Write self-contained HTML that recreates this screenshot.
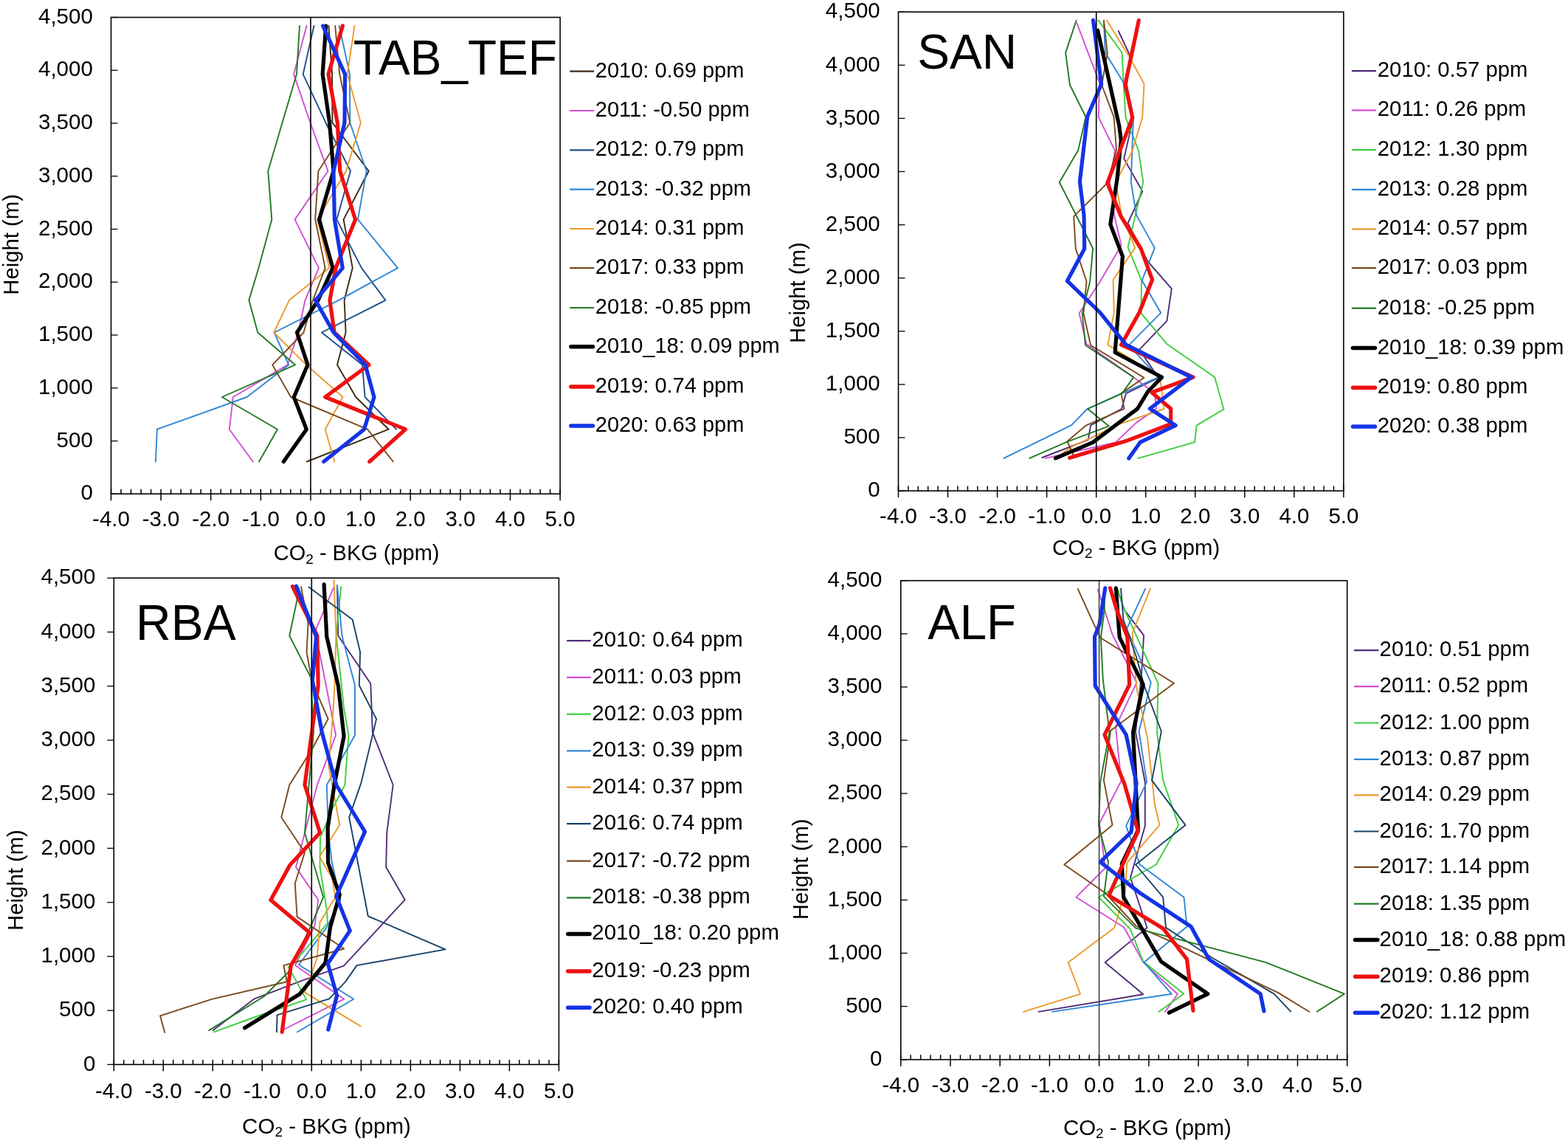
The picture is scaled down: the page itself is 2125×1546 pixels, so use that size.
<!DOCTYPE html>
<html><head><meta charset="utf-8"><title>CO2 profiles</title>
<style>
html,body{margin:0;padding:0;background:#fff;width:2125px;height:1546px;overflow:hidden}
.t{font-family:"Liberation Sans", Arial, sans-serif;font-size:29.3px;fill:#000}
.k{font-size:29.5px}
</style></head><body>
<svg width="2125" height="1546" viewBox="0 0 2125 1546" style="display:block"><rect width="2125" height="1546" fill="#fff"/><g id="TL"><polyline points="445.4,35.0 450.1,100.6 450.5,166.2 499.7,231.8 465.6,297.4 477.8,363.1 466.6,406.8 468.6,450.5 457.0,494.3 482.2,538.0 526.7,581.7 415.9,625.5" fill="none" stroke="#3b2a14" stroke-width="1.9" stroke-linejoin="round" stroke-linecap="round"/><polyline points="415.6,35.0 398.1,100.6 420.5,166.2 444.5,231.8 399.6,297.4 432.0,363.1 413.5,406.8 404.2,450.5 389.7,494.3 315.9,538.0 310.8,581.7 342.8,625.5" fill="none" stroke="#d14fd6" stroke-width="1.9" stroke-linejoin="round" stroke-linecap="round"/><polyline points="425.5,35.0 410.7,100.6 441.4,166.2 475.0,231.8 456.3,297.4 490.0,363.1 522.4,406.8 436.0,450.5 491.0,494.3 494.6,538.0 537.0,581.7" fill="none" stroke="#1f4e8c" stroke-width="1.9" stroke-linejoin="round" stroke-linecap="round"/><polyline points="459.7,35.0 474.0,100.6 474.3,166.2 496.6,231.8 485.0,297.4 539.0,363.1 459.0,406.8 371.6,450.5 391.3,494.3 334.6,538.0 212.9,581.7 210.9,625.5" fill="none" stroke="#2f86d6" stroke-width="1.9" stroke-linejoin="round" stroke-linecap="round"/><polyline points="480.5,35.0 470.7,100.6 488.9,166.2 469.0,231.8 430.0,297.4 446.4,363.1 392.0,406.8 371.1,450.5 415.0,494.3 464.6,538.0 440.7,581.7 453.2,625.5" fill="none" stroke="#eb9a2e" stroke-width="1.9" stroke-linejoin="round" stroke-linecap="round"/><polyline points="454.2,35.0 460.3,100.6 474.3,166.2 431.4,231.8 427.2,297.4 440.7,363.1 424.0,406.8 411.5,450.5 369.2,494.3 394.2,538.0 498.0,581.7 532.9,625.5" fill="none" stroke="#7b4a1e" stroke-width="1.9" stroke-linejoin="round" stroke-linecap="round"/><polyline points="406.0,35.0 402.0,100.6 382.6,166.2 363.3,231.8 368.3,297.4 350.5,363.1 337.4,406.8 349.3,450.5 400.0,494.3 300.9,538.0 376.0,581.7 351.1,625.5" fill="none" stroke="#237a23" stroke-width="1.9" stroke-linejoin="round" stroke-linecap="round"/><polyline points="441.7,35.0 437.2,100.6 446.6,166.2 452.0,231.8 432.6,297.4 451.0,363.1 431.0,406.8 402.5,450.5 417.0,494.3 398.3,538.0 415.4,581.7 384.3,625.5" fill="none" stroke="#000000" stroke-width="5.2" stroke-linejoin="round" stroke-linecap="round"/><polyline points="464.4,35.0 445.0,100.6 457.3,166.2 460.7,231.8 481.6,297.4 455.0,363.1 447.0,406.8 453.1,450.5 500.0,494.3 440.7,538.0 549.4,581.7 500.8,625.5" fill="none" stroke="#ee1111" stroke-width="5.2" stroke-linejoin="round" stroke-linecap="round"/><polyline points="437.6,35.0 467.6,100.6 467.0,166.2 452.0,231.8 453.4,297.4 464.3,363.1 427.5,406.8 452.1,450.5 495.0,494.3 507.0,538.0 493.5,581.7 438.7,625.5" fill="none" stroke="#1433e6" stroke-width="5.2" stroke-linejoin="round" stroke-linecap="round"/><line x1="421.0" y1="23.5" x2="421.0" y2="669.2" stroke="#000" stroke-width="1.6"/><rect x="150.5" y="23.5" width="608.6" height="645.7" fill="none" stroke="#000" stroke-width="1.6"/><line x1="150.5" y1="662.7" x2="150.5" y2="678.2" stroke="#000" stroke-width="1.5"/><line x1="164.0" y1="662.7" x2="164.0" y2="669.2" stroke="#000" stroke-width="1.5"/><line x1="177.5" y1="662.7" x2="177.5" y2="669.2" stroke="#000" stroke-width="1.5"/><line x1="191.1" y1="662.7" x2="191.1" y2="669.2" stroke="#000" stroke-width="1.5"/><line x1="204.6" y1="662.7" x2="204.6" y2="669.2" stroke="#000" stroke-width="1.5"/><line x1="218.1" y1="662.7" x2="218.1" y2="678.2" stroke="#000" stroke-width="1.5"/><line x1="231.6" y1="662.7" x2="231.6" y2="669.2" stroke="#000" stroke-width="1.5"/><line x1="245.2" y1="662.7" x2="245.2" y2="669.2" stroke="#000" stroke-width="1.5"/><line x1="258.7" y1="662.7" x2="258.7" y2="669.2" stroke="#000" stroke-width="1.5"/><line x1="272.2" y1="662.7" x2="272.2" y2="669.2" stroke="#000" stroke-width="1.5"/><line x1="285.7" y1="662.7" x2="285.7" y2="678.2" stroke="#000" stroke-width="1.5"/><line x1="299.3" y1="662.7" x2="299.3" y2="669.2" stroke="#000" stroke-width="1.5"/><line x1="312.8" y1="662.7" x2="312.8" y2="669.2" stroke="#000" stroke-width="1.5"/><line x1="326.3" y1="662.7" x2="326.3" y2="669.2" stroke="#000" stroke-width="1.5"/><line x1="339.8" y1="662.7" x2="339.8" y2="669.2" stroke="#000" stroke-width="1.5"/><line x1="353.4" y1="662.7" x2="353.4" y2="678.2" stroke="#000" stroke-width="1.5"/><line x1="366.9" y1="662.7" x2="366.9" y2="669.2" stroke="#000" stroke-width="1.5"/><line x1="380.4" y1="662.7" x2="380.4" y2="669.2" stroke="#000" stroke-width="1.5"/><line x1="393.9" y1="662.7" x2="393.9" y2="669.2" stroke="#000" stroke-width="1.5"/><line x1="407.5" y1="662.7" x2="407.5" y2="669.2" stroke="#000" stroke-width="1.5"/><line x1="421.0" y1="662.7" x2="421.0" y2="678.2" stroke="#000" stroke-width="1.5"/><line x1="434.5" y1="662.7" x2="434.5" y2="669.2" stroke="#000" stroke-width="1.5"/><line x1="448.0" y1="662.7" x2="448.0" y2="669.2" stroke="#000" stroke-width="1.5"/><line x1="461.6" y1="662.7" x2="461.6" y2="669.2" stroke="#000" stroke-width="1.5"/><line x1="475.1" y1="662.7" x2="475.1" y2="669.2" stroke="#000" stroke-width="1.5"/><line x1="488.6" y1="662.7" x2="488.6" y2="678.2" stroke="#000" stroke-width="1.5"/><line x1="502.1" y1="662.7" x2="502.1" y2="669.2" stroke="#000" stroke-width="1.5"/><line x1="515.7" y1="662.7" x2="515.7" y2="669.2" stroke="#000" stroke-width="1.5"/><line x1="529.2" y1="662.7" x2="529.2" y2="669.2" stroke="#000" stroke-width="1.5"/><line x1="542.7" y1="662.7" x2="542.7" y2="669.2" stroke="#000" stroke-width="1.5"/><line x1="556.2" y1="662.7" x2="556.2" y2="678.2" stroke="#000" stroke-width="1.5"/><line x1="569.8" y1="662.7" x2="569.8" y2="669.2" stroke="#000" stroke-width="1.5"/><line x1="583.3" y1="662.7" x2="583.3" y2="669.2" stroke="#000" stroke-width="1.5"/><line x1="596.8" y1="662.7" x2="596.8" y2="669.2" stroke="#000" stroke-width="1.5"/><line x1="610.3" y1="662.7" x2="610.3" y2="669.2" stroke="#000" stroke-width="1.5"/><line x1="623.9" y1="662.7" x2="623.9" y2="678.2" stroke="#000" stroke-width="1.5"/><line x1="637.4" y1="662.7" x2="637.4" y2="669.2" stroke="#000" stroke-width="1.5"/><line x1="650.9" y1="662.7" x2="650.9" y2="669.2" stroke="#000" stroke-width="1.5"/><line x1="664.4" y1="662.7" x2="664.4" y2="669.2" stroke="#000" stroke-width="1.5"/><line x1="678.0" y1="662.7" x2="678.0" y2="669.2" stroke="#000" stroke-width="1.5"/><line x1="691.5" y1="662.7" x2="691.5" y2="678.2" stroke="#000" stroke-width="1.5"/><line x1="705.0" y1="662.7" x2="705.0" y2="669.2" stroke="#000" stroke-width="1.5"/><line x1="718.5" y1="662.7" x2="718.5" y2="669.2" stroke="#000" stroke-width="1.5"/><line x1="732.1" y1="662.7" x2="732.1" y2="669.2" stroke="#000" stroke-width="1.5"/><line x1="745.6" y1="662.7" x2="745.6" y2="669.2" stroke="#000" stroke-width="1.5"/><line x1="759.1" y1="662.7" x2="759.1" y2="678.2" stroke="#000" stroke-width="1.5"/><line x1="150.5" y1="669.2" x2="159.5" y2="669.2" stroke="#000" stroke-width="1.3"/><line x1="150.5" y1="597.5" x2="159.5" y2="597.5" stroke="#000" stroke-width="1.3"/><line x1="150.5" y1="525.7" x2="159.5" y2="525.7" stroke="#000" stroke-width="1.3"/><line x1="150.5" y1="454.0" x2="159.5" y2="454.0" stroke="#000" stroke-width="1.3"/><line x1="150.5" y1="382.2" x2="159.5" y2="382.2" stroke="#000" stroke-width="1.3"/><line x1="150.5" y1="310.5" x2="159.5" y2="310.5" stroke="#000" stroke-width="1.3"/><line x1="150.5" y1="238.7" x2="159.5" y2="238.7" stroke="#000" stroke-width="1.3"/><line x1="150.5" y1="167.0" x2="159.5" y2="167.0" stroke="#000" stroke-width="1.3"/><line x1="150.5" y1="95.2" x2="159.5" y2="95.2" stroke="#000" stroke-width="1.3"/><line x1="150.5" y1="23.5" x2="159.5" y2="23.5" stroke="#000" stroke-width="1.3"/><text transform="translate(125.8,677.4) scale(1,1.0)" text-anchor="end" class="t k">0</text><text transform="translate(125.8,605.7) scale(1,1.0)" text-anchor="end" class="t k">500</text><text transform="translate(125.8,533.9) scale(1,1.0)" text-anchor="end" class="t k">1,000</text><text transform="translate(125.8,462.2) scale(1,1.0)" text-anchor="end" class="t k">1,500</text><text transform="translate(125.8,390.4) scale(1,1.0)" text-anchor="end" class="t k">2,000</text><text transform="translate(125.8,318.7) scale(1,1.0)" text-anchor="end" class="t k">2,500</text><text transform="translate(125.8,246.9) scale(1,1.0)" text-anchor="end" class="t k">3,000</text><text transform="translate(125.8,175.2) scale(1,1.0)" text-anchor="end" class="t k">3,500</text><text transform="translate(125.8,103.4) scale(1,1.0)" text-anchor="end" class="t k">4,000</text><text transform="translate(125.8,31.7) scale(1,1.0)" text-anchor="end" class="t k">4,500</text><text transform="translate(150.5,713.0) scale(1,1.025)" text-anchor="middle" class="t k">-4.0</text><text transform="translate(218.1,713.0) scale(1,1.025)" text-anchor="middle" class="t k">-3.0</text><text transform="translate(285.7,713.0) scale(1,1.025)" text-anchor="middle" class="t k">-2.0</text><text transform="translate(353.4,713.0) scale(1,1.025)" text-anchor="middle" class="t k">-1.0</text><text transform="translate(421.0,713.0) scale(1,1.025)" text-anchor="middle" class="t k">0.0</text><text transform="translate(488.6,713.0) scale(1,1.025)" text-anchor="middle" class="t k">1.0</text><text transform="translate(556.2,713.0) scale(1,1.025)" text-anchor="middle" class="t k">2.0</text><text transform="translate(623.9,713.0) scale(1,1.025)" text-anchor="middle" class="t k">3.0</text><text transform="translate(691.5,713.0) scale(1,1.025)" text-anchor="middle" class="t k">4.0</text><text transform="translate(759.1,713.0) scale(1,1.025)" text-anchor="middle" class="t k">5.0</text><text transform="translate(370.8,759.0) scale(1,1.0)" class="t" style="font-size:28.97px">CO<tspan style="font-size:19px" dy="4.5">2</tspan><tspan dy="-4.5"> - BKG (ppm)</tspan></text><text transform="translate(24.8,331.4) rotate(-90) scale(1,1.0)" text-anchor="middle" class="t">Height (m)</text><text transform="translate(478.7,100.8) scale(1,1.03)" class="t" style="font-size:64px">TAB_TEF</text><line x1="772.2" y1="96.7" x2="805.1" y2="96.7" stroke="#3b2a14" stroke-width="2.2" stroke-linecap="butt"/><text transform="translate(806.8,104.7) scale(1,1.0)" class="t" style="font-size:29.0px">2010: 0.69 ppm</text><line x1="772.2" y1="150.0" x2="805.1" y2="150.0" stroke="#d14fd6" stroke-width="2.2" stroke-linecap="butt"/><text transform="translate(806.8,158.0) scale(1,1.0)" class="t" style="font-size:29.0px">2011: -0.50 ppm</text><line x1="772.2" y1="203.3" x2="805.1" y2="203.3" stroke="#1f4e8c" stroke-width="2.2" stroke-linecap="butt"/><text transform="translate(806.8,211.3) scale(1,1.0)" class="t" style="font-size:29.0px">2012: 0.79 ppm</text><line x1="772.2" y1="256.6" x2="805.1" y2="256.6" stroke="#2f86d6" stroke-width="2.2" stroke-linecap="butt"/><text transform="translate(806.8,264.6) scale(1,1.0)" class="t" style="font-size:29.0px">2013: -0.32 ppm</text><line x1="772.2" y1="310.0" x2="805.1" y2="310.0" stroke="#eb9a2e" stroke-width="2.2" stroke-linecap="butt"/><text transform="translate(806.8,318.0) scale(1,1.0)" class="t" style="font-size:29.0px">2014: 0.31 ppm</text><line x1="772.2" y1="363.2" x2="805.1" y2="363.2" stroke="#7b4a1e" stroke-width="2.2" stroke-linecap="butt"/><text transform="translate(806.8,371.2) scale(1,1.0)" class="t" style="font-size:29.0px">2017: 0.33 ppm</text><line x1="772.2" y1="417.0" x2="805.1" y2="417.0" stroke="#237a23" stroke-width="2.2" stroke-linecap="butt"/><text transform="translate(806.8,425.0) scale(1,1.0)" class="t" style="font-size:29.0px">2018: -0.85 ppm</text><line x1="773.8" y1="469.7" x2="803.5" y2="469.7" stroke="#000000" stroke-width="5.5" stroke-linecap="round"/><text transform="translate(806.8,477.7) scale(1,1.0)" class="t" style="font-size:29.0px">2010_18: 0.09 ppm</text><line x1="773.8" y1="523.9" x2="803.5" y2="523.9" stroke="#ee1111" stroke-width="5.5" stroke-linecap="round"/><text transform="translate(806.8,531.9) scale(1,1.0)" class="t" style="font-size:29.0px">2019: 0.74 ppm</text><line x1="773.8" y1="577.1" x2="803.5" y2="577.1" stroke="#1433e6" stroke-width="5.5" stroke-linecap="round"/><text transform="translate(806.8,585.1) scale(1,1.0)" class="t" style="font-size:29.0px">2020: 0.63 ppm</text></g><g id="TR"><polyline points="1515.7,42.0 1531.9,76.3 1527.0,115.0 1536.0,159.0 1523.2,214.9 1548.3,259.3 1528.5,302.5 1555.7,354.5 1587.8,391.2 1581.4,434.9 1544.1,473.6 1570.0,512.0 1526.0,533.1 1520.1,554.0 1478.2,576.1 1474.7,595.9 1412.5,620.0" fill="none" stroke="#502d78" stroke-width="1.9" stroke-linejoin="round" stroke-linecap="round"/><polyline points="1459.5,31.6 1490.0,112.0 1488.7,158.7 1511.0,204.0 1504.0,247.0 1510.3,292.8 1519.6,332.4 1491.7,380.1 1462.6,424.4 1472.3,466.0 1536.0,511.0 1565.0,533.0 1567.0,554.0 1540.0,572.6 1512.0,599.4 1486.4,605.2 1417.0,620.9" fill="none" stroke="#d14fd6" stroke-width="1.9" stroke-linejoin="round" stroke-linecap="round"/><polyline points="1488.6,27.6 1520.5,71.2 1522.6,111.2 1525.6,159.5 1542.8,203.4 1549.3,246.9 1528.6,334.8 1547.0,380.1 1546.4,424.4 1581.6,466.3 1646.2,511.1 1658.5,554.5 1621.7,576.4 1619.1,599.1 1542.1,621.1" fill="none" stroke="#3ccf3c" stroke-width="1.9" stroke-linejoin="round" stroke-linecap="round"/><polyline points="1495.9,28.2 1497.9,71.4 1522.4,111.5 1536.0,159.0 1534.2,205.5 1532.8,246.9 1540.0,291.4 1564.8,335.9 1547.6,380.1 1573.2,423.8 1529.8,467.8 1569.9,511.1 1473.6,554.0 1452.0,576.1 1360.4,620.9" fill="none" stroke="#2f86d6" stroke-width="1.9" stroke-linejoin="round" stroke-linecap="round"/><polyline points="1499.9,27.6 1530.7,77.5 1550.5,113.6 1548.2,159.0 1534.2,205.5 1512.0,247.0 1520.0,291.6 1538.3,335.9 1508.6,379.0 1509.8,423.2 1501.4,467.2 1572.0,511.0 1577.7,554.0 1515.6,575.0 1484.0,590.7 1452.6,605.2 1440.0,614.0" fill="none" stroke="#eb9a2e" stroke-width="1.9" stroke-linejoin="round" stroke-linecap="round"/><polyline points="1495.9,27.6 1500.8,72.3 1493.1,115.0 1509.6,158.7 1513.0,203.4 1500.7,247.9 1455.2,293.4 1457.8,336.9 1472.5,381.3 1468.4,424.4 1478.1,467.8 1550.5,511.8 1519.5,533.1 1523.6,554.0 1472.4,576.1 1446.3,598.0 1455.0,617.0" fill="none" stroke="#7b4a1e" stroke-width="1.9" stroke-linejoin="round" stroke-linecap="round"/><polyline points="1458.6,27.9 1444.1,71.4 1449.9,115.0 1471.5,158.5 1461.2,203.4 1435.8,247.0 1481.1,336.5 1477.2,381.3 1466.7,424.4 1471.0,467.8 1536.3,511.1 1520.5,533.2 1474.1,554.0 1502.7,577.3 1445.6,598.8 1395.3,620.9" fill="none" stroke="#237a23" stroke-width="1.9" stroke-linejoin="round" stroke-linecap="round"/><polyline points="1487.7,41.2 1516.8,170.6 1519.3,190.0 1514.1,241.7 1504.8,303.8 1521.4,347.5 1511.1,477.5 1574.5,511.1 1555.7,530.5 1541.5,553.8 1481.1,599.4 1430.5,620.9" fill="none" stroke="#000000" stroke-width="5.2" stroke-linejoin="round" stroke-linecap="round"/><polyline points="1543.3,27.6 1524.9,114.7 1534.8,159.5 1500.7,247.9 1519.3,293.4 1546.2,336.9 1561.6,379.0 1544.1,423.2 1519.5,467.2 1617.1,511.1 1560.9,531.8 1586.7,553.8 1586.7,574.5 1527.3,597.1 1449.7,620.3" fill="none" stroke="#ee1111" stroke-width="5.2" stroke-linejoin="round" stroke-linecap="round"/><polyline points="1481.5,27.3 1492.6,114.1 1473.7,157.7 1463.4,245.9 1469.0,292.0 1469.7,336.9 1446.3,380.7 1490.5,423.2 1526.0,467.2 1614.5,511.1 1558.3,553.8 1593.2,576.4 1545.4,599.1 1529.8,621.1" fill="none" stroke="#1433e6" stroke-width="5.2" stroke-linejoin="round" stroke-linecap="round"/><line x1="1485.7" y1="16.2" x2="1485.7" y2="665.1" stroke="#000" stroke-width="1.6"/><rect x="1217.5" y="16.2" width="603.4" height="648.9" fill="none" stroke="#000" stroke-width="1.6"/><line x1="1217.5" y1="658.6" x2="1217.5" y2="674.1" stroke="#000" stroke-width="1.5"/><line x1="1230.9" y1="658.6" x2="1230.9" y2="665.1" stroke="#000" stroke-width="1.5"/><line x1="1244.3" y1="658.6" x2="1244.3" y2="665.1" stroke="#000" stroke-width="1.5"/><line x1="1257.7" y1="658.6" x2="1257.7" y2="665.1" stroke="#000" stroke-width="1.5"/><line x1="1271.1" y1="658.6" x2="1271.1" y2="665.1" stroke="#000" stroke-width="1.5"/><line x1="1284.5" y1="658.6" x2="1284.5" y2="674.1" stroke="#000" stroke-width="1.5"/><line x1="1298.0" y1="658.6" x2="1298.0" y2="665.1" stroke="#000" stroke-width="1.5"/><line x1="1311.4" y1="658.6" x2="1311.4" y2="665.1" stroke="#000" stroke-width="1.5"/><line x1="1324.8" y1="658.6" x2="1324.8" y2="665.1" stroke="#000" stroke-width="1.5"/><line x1="1338.2" y1="658.6" x2="1338.2" y2="665.1" stroke="#000" stroke-width="1.5"/><line x1="1351.6" y1="658.6" x2="1351.6" y2="674.1" stroke="#000" stroke-width="1.5"/><line x1="1365.0" y1="658.6" x2="1365.0" y2="665.1" stroke="#000" stroke-width="1.5"/><line x1="1378.4" y1="658.6" x2="1378.4" y2="665.1" stroke="#000" stroke-width="1.5"/><line x1="1391.8" y1="658.6" x2="1391.8" y2="665.1" stroke="#000" stroke-width="1.5"/><line x1="1405.2" y1="658.6" x2="1405.2" y2="665.1" stroke="#000" stroke-width="1.5"/><line x1="1418.6" y1="658.6" x2="1418.6" y2="674.1" stroke="#000" stroke-width="1.5"/><line x1="1432.0" y1="658.6" x2="1432.0" y2="665.1" stroke="#000" stroke-width="1.5"/><line x1="1445.5" y1="658.6" x2="1445.5" y2="665.1" stroke="#000" stroke-width="1.5"/><line x1="1458.9" y1="658.6" x2="1458.9" y2="665.1" stroke="#000" stroke-width="1.5"/><line x1="1472.3" y1="658.6" x2="1472.3" y2="665.1" stroke="#000" stroke-width="1.5"/><line x1="1485.7" y1="658.6" x2="1485.7" y2="674.1" stroke="#000" stroke-width="1.5"/><line x1="1499.1" y1="658.6" x2="1499.1" y2="665.1" stroke="#000" stroke-width="1.5"/><line x1="1512.5" y1="658.6" x2="1512.5" y2="665.1" stroke="#000" stroke-width="1.5"/><line x1="1525.9" y1="658.6" x2="1525.9" y2="665.1" stroke="#000" stroke-width="1.5"/><line x1="1539.3" y1="658.6" x2="1539.3" y2="665.1" stroke="#000" stroke-width="1.5"/><line x1="1552.7" y1="658.6" x2="1552.7" y2="674.1" stroke="#000" stroke-width="1.5"/><line x1="1566.1" y1="658.6" x2="1566.1" y2="665.1" stroke="#000" stroke-width="1.5"/><line x1="1579.5" y1="658.6" x2="1579.5" y2="665.1" stroke="#000" stroke-width="1.5"/><line x1="1592.9" y1="658.6" x2="1592.9" y2="665.1" stroke="#000" stroke-width="1.5"/><line x1="1606.4" y1="658.6" x2="1606.4" y2="665.1" stroke="#000" stroke-width="1.5"/><line x1="1619.8" y1="658.6" x2="1619.8" y2="674.1" stroke="#000" stroke-width="1.5"/><line x1="1633.2" y1="658.6" x2="1633.2" y2="665.1" stroke="#000" stroke-width="1.5"/><line x1="1646.6" y1="658.6" x2="1646.6" y2="665.1" stroke="#000" stroke-width="1.5"/><line x1="1660.0" y1="658.6" x2="1660.0" y2="665.1" stroke="#000" stroke-width="1.5"/><line x1="1673.4" y1="658.6" x2="1673.4" y2="665.1" stroke="#000" stroke-width="1.5"/><line x1="1686.8" y1="658.6" x2="1686.8" y2="674.1" stroke="#000" stroke-width="1.5"/><line x1="1700.2" y1="658.6" x2="1700.2" y2="665.1" stroke="#000" stroke-width="1.5"/><line x1="1713.6" y1="658.6" x2="1713.6" y2="665.1" stroke="#000" stroke-width="1.5"/><line x1="1727.0" y1="658.6" x2="1727.0" y2="665.1" stroke="#000" stroke-width="1.5"/><line x1="1740.4" y1="658.6" x2="1740.4" y2="665.1" stroke="#000" stroke-width="1.5"/><line x1="1753.9" y1="658.6" x2="1753.9" y2="674.1" stroke="#000" stroke-width="1.5"/><line x1="1767.3" y1="658.6" x2="1767.3" y2="665.1" stroke="#000" stroke-width="1.5"/><line x1="1780.7" y1="658.6" x2="1780.7" y2="665.1" stroke="#000" stroke-width="1.5"/><line x1="1794.1" y1="658.6" x2="1794.1" y2="665.1" stroke="#000" stroke-width="1.5"/><line x1="1807.5" y1="658.6" x2="1807.5" y2="665.1" stroke="#000" stroke-width="1.5"/><line x1="1820.9" y1="658.6" x2="1820.9" y2="674.1" stroke="#000" stroke-width="1.5"/><line x1="1217.5" y1="665.1" x2="1226.5" y2="665.1" stroke="#000" stroke-width="1.3"/><line x1="1217.5" y1="593.0" x2="1226.5" y2="593.0" stroke="#000" stroke-width="1.3"/><line x1="1217.5" y1="520.9" x2="1226.5" y2="520.9" stroke="#000" stroke-width="1.3"/><line x1="1217.5" y1="448.8" x2="1226.5" y2="448.8" stroke="#000" stroke-width="1.3"/><line x1="1217.5" y1="376.7" x2="1226.5" y2="376.7" stroke="#000" stroke-width="1.3"/><line x1="1217.5" y1="304.6" x2="1226.5" y2="304.6" stroke="#000" stroke-width="1.3"/><line x1="1217.5" y1="232.5" x2="1226.5" y2="232.5" stroke="#000" stroke-width="1.3"/><line x1="1217.5" y1="160.4" x2="1226.5" y2="160.4" stroke="#000" stroke-width="1.3"/><line x1="1217.5" y1="88.3" x2="1226.5" y2="88.3" stroke="#000" stroke-width="1.3"/><line x1="1217.5" y1="16.2" x2="1226.5" y2="16.2" stroke="#000" stroke-width="1.3"/><text transform="translate(1192.7,673.3) scale(1,1.0)" text-anchor="end" class="t k">0</text><text transform="translate(1192.7,601.2) scale(1,1.0)" text-anchor="end" class="t k">500</text><text transform="translate(1192.7,529.1) scale(1,1.0)" text-anchor="end" class="t k">1,000</text><text transform="translate(1192.7,457.0) scale(1,1.0)" text-anchor="end" class="t k">1,500</text><text transform="translate(1192.7,384.9) scale(1,1.0)" text-anchor="end" class="t k">2,000</text><text transform="translate(1192.7,312.8) scale(1,1.0)" text-anchor="end" class="t k">2,500</text><text transform="translate(1192.7,240.7) scale(1,1.0)" text-anchor="end" class="t k">3,000</text><text transform="translate(1192.7,168.6) scale(1,1.0)" text-anchor="end" class="t k">3,500</text><text transform="translate(1192.7,96.5) scale(1,1.0)" text-anchor="end" class="t k">4,000</text><text transform="translate(1192.7,24.4) scale(1,1.0)" text-anchor="end" class="t k">4,500</text><text transform="translate(1217.5,709.3) scale(1,1.025)" text-anchor="middle" class="t k">-4.0</text><text transform="translate(1284.5,709.3) scale(1,1.025)" text-anchor="middle" class="t k">-3.0</text><text transform="translate(1351.6,709.3) scale(1,1.025)" text-anchor="middle" class="t k">-2.0</text><text transform="translate(1418.6,709.3) scale(1,1.025)" text-anchor="middle" class="t k">-1.0</text><text transform="translate(1485.7,709.3) scale(1,1.025)" text-anchor="middle" class="t k">0.0</text><text transform="translate(1552.7,709.3) scale(1,1.025)" text-anchor="middle" class="t k">1.0</text><text transform="translate(1619.8,709.3) scale(1,1.025)" text-anchor="middle" class="t k">2.0</text><text transform="translate(1686.8,709.3) scale(1,1.025)" text-anchor="middle" class="t k">3.0</text><text transform="translate(1753.9,709.3) scale(1,1.025)" text-anchor="middle" class="t k">4.0</text><text transform="translate(1820.9,709.3) scale(1,1.025)" text-anchor="middle" class="t k">5.0</text><text transform="translate(1426.1,751.8) scale(1,1.0)" class="t" style="font-size:29.32px">CO<tspan style="font-size:19px" dy="4.5">2</tspan><tspan dy="-4.5"> - BKG (ppm)</tspan></text><text transform="translate(1091.4,396.7) rotate(-90) scale(1,1.0)" text-anchor="middle" class="t">Height (m)</text><text transform="translate(1243.2,92.6) scale(1,1.03)" class="t" style="font-size:65.6px">SAN</text><line x1="1831.9" y1="96.2" x2="1865.0" y2="96.2" stroke="#502d78" stroke-width="2.2" stroke-linecap="butt"/><text transform="translate(1866.8,104.2) scale(1,1.0)" class="t" style="font-size:29.3px">2010: 0.57 ppm</text><line x1="1831.9" y1="149.4" x2="1865.0" y2="149.4" stroke="#d14fd6" stroke-width="2.2" stroke-linecap="butt"/><text transform="translate(1866.8,157.4) scale(1,1.0)" class="t" style="font-size:29.3px">2011: 0.26 ppm</text><line x1="1831.9" y1="203.2" x2="1865.0" y2="203.2" stroke="#3ccf3c" stroke-width="2.2" stroke-linecap="butt"/><text transform="translate(1866.8,211.2) scale(1,1.0)" class="t" style="font-size:29.3px">2012: 1.30 ppm</text><line x1="1831.9" y1="256.9" x2="1865.0" y2="256.9" stroke="#2f86d6" stroke-width="2.2" stroke-linecap="butt"/><text transform="translate(1866.8,264.9) scale(1,1.0)" class="t" style="font-size:29.3px">2013: 0.28 ppm</text><line x1="1831.9" y1="310.3" x2="1865.0" y2="310.3" stroke="#eb9a2e" stroke-width="2.2" stroke-linecap="butt"/><text transform="translate(1866.8,318.3) scale(1,1.0)" class="t" style="font-size:29.3px">2014: 0.57 ppm</text><line x1="1831.9" y1="363.2" x2="1865.0" y2="363.2" stroke="#7b4a1e" stroke-width="2.2" stroke-linecap="butt"/><text transform="translate(1866.8,371.2) scale(1,1.0)" class="t" style="font-size:29.3px">2017: 0.03 ppm</text><line x1="1831.9" y1="417.7" x2="1865.0" y2="417.7" stroke="#237a23" stroke-width="2.2" stroke-linecap="butt"/><text transform="translate(1866.8,425.7) scale(1,1.0)" class="t" style="font-size:29.3px">2018: -0.25 ppm</text><line x1="1833.5" y1="471.5" x2="1863.4" y2="471.5" stroke="#000000" stroke-width="5.5" stroke-linecap="round"/><text transform="translate(1866.8,479.5) scale(1,1.0)" class="t" style="font-size:29.3px">2010_18: 0.39 ppm</text><line x1="1833.5" y1="525.3" x2="1863.4" y2="525.3" stroke="#ee1111" stroke-width="5.5" stroke-linecap="round"/><text transform="translate(1866.8,533.3) scale(1,1.0)" class="t" style="font-size:29.3px">2019: 0.80 ppm</text><line x1="1833.5" y1="578.0" x2="1863.4" y2="578.0" stroke="#1433e6" stroke-width="5.5" stroke-linecap="round"/><text transform="translate(1866.8,586.0) scale(1,1.0)" class="t" style="font-size:29.3px">2020: 0.38 ppm</text></g><g id="BL"><polyline points="457.0,794.0 458.3,861.5 502.3,926.2 504.9,992.3 532.7,1063.5 524.3,1128.2 523.2,1174.9 548.8,1219.2 465.9,1308.6 410.0,1328.3 344.8,1353.3 288.7,1396.1" fill="none" stroke="#502d78" stroke-width="1.9" stroke-linejoin="round" stroke-linecap="round"/><polyline points="451.8,796.8 427.3,855.0 448.0,960.0 455.1,996.2 429.9,1063.5 401.0,1174.9 431.2,1219.2 426.6,1254.0 400.0,1308.0 466.4,1353.7 384.4,1395.0" fill="none" stroke="#d14fd6" stroke-width="1.9" stroke-linejoin="round" stroke-linecap="round"/><polyline points="462.2,794.9 455.7,861.5 466.1,960.0 472.5,996.2 467.4,1063.5 450.6,1095.8 434.0,1135.0 433.6,1174.9 442.9,1233.1 444.0,1250.6 410.0,1291.0 391.0,1310.4 415.2,1354.4 347.0,1377.5 289.8,1398.3" fill="none" stroke="#3ccf3c" stroke-width="1.9" stroke-linejoin="round" stroke-linecap="round"/><polyline points="457.0,792.9 463.5,861.5 481.0,928.8 481.0,996.2 442.8,1063.5 444.1,1102.3 446.4,1140.0 449.9,1169.1 461.5,1219.2 442.9,1256.4 404.9,1307.3 479.3,1353.7 403.0,1398.3" fill="none" stroke="#2f86d6" stroke-width="1.9" stroke-linejoin="round" stroke-linecap="round"/><polyline points="452.5,785.8 455.5,860.0 453.5,928.0 451.8,960.0 445.4,1037.6 460.3,1117.8 433.0,1161.0 449.9,1188.9 454.5,1215.7 433.6,1249.4 429.7,1298.0 413.1,1344.9 488.7,1390.4" fill="none" stroke="#eb9a2e" stroke-width="1.9" stroke-linejoin="round" stroke-linecap="round"/><polyline points="418.5,795.4 477.7,839.5 488.1,883.5 486.8,928.8 510.1,974.2 489.4,1060.9 473.2,1107.5 498.8,1241.3 603.5,1286.4 483.5,1308.1 468.0,1330.4 446.0,1353.3 375.6,1375.3 375.0,1398.3" fill="none" stroke="#1a4468" stroke-width="1.9" stroke-linejoin="round" stroke-linecap="round"/><polyline points="408.0,795.1 417.6,844.7 415.6,883.5 422.1,919.7 430.5,941.7 444.7,974.0 423.4,1014.3 392.3,1063.5 381.3,1107.5 413.0,1155.0 399.8,1197.0 402.6,1242.1 466.2,1285.5 384.4,1308.2 388.8,1330.2 286.9,1353.9 217.1,1376.4 223.3,1398.9" fill="none" stroke="#7b4a1e" stroke-width="1.9" stroke-linejoin="round" stroke-linecap="round"/><polyline points="398.0,795.0 402.7,812.3 392.3,861.5 421.4,918.4 425.0,992.0 413.0,1128.2 438.2,1215.7 420.6,1256.5 391.0,1317.0 358.0,1350.0 283.2,1396.1" fill="none" stroke="#237a23" stroke-width="1.9" stroke-linejoin="round" stroke-linecap="round"/><polyline points="439.1,791.8 442.8,862.8 458.3,928.8 466.1,997.5 453.1,1063.5 444.1,1121.7 444.6,1169.1 460.3,1212.2 447.5,1256.4 441.0,1304.5 406.4,1346.7 331.6,1392.8" fill="none" stroke="#000000" stroke-width="5.2" stroke-linejoin="round" stroke-linecap="round"/><polyline points="396.4,794.5 429.9,861.5 431.2,928.8 413.0,1063.5 433.7,1128.2 393.0,1172.0 366.9,1219.6 419.7,1263.8 394.3,1308.2 382.2,1398.3" fill="none" stroke="#ee1111" stroke-width="5.2" stroke-linejoin="round" stroke-linecap="round"/><polyline points="401.6,794.2 428.6,862.8 423.4,922.3 436.3,992.3 455.7,1063.5 494.5,1126.9 455.7,1214.5 474.3,1261.1 444.2,1305.5 456.6,1349.0 444.8,1395.0" fill="none" stroke="#1433e6" stroke-width="5.2" stroke-linejoin="round" stroke-linecap="round"/><line x1="422.3" y1="783.2" x2="422.3" y2="1442.4" stroke="#000" stroke-width="1.6"/><rect x="154.3" y="783.2" width="603.1" height="659.2" fill="none" stroke="#000" stroke-width="1.6"/><line x1="154.3" y1="1435.9" x2="154.3" y2="1451.4" stroke="#000" stroke-width="1.5"/><line x1="167.7" y1="1435.9" x2="167.7" y2="1442.4" stroke="#000" stroke-width="1.5"/><line x1="181.1" y1="1435.9" x2="181.1" y2="1442.4" stroke="#000" stroke-width="1.5"/><line x1="194.5" y1="1435.9" x2="194.5" y2="1442.4" stroke="#000" stroke-width="1.5"/><line x1="207.9" y1="1435.9" x2="207.9" y2="1442.4" stroke="#000" stroke-width="1.5"/><line x1="221.3" y1="1435.9" x2="221.3" y2="1451.4" stroke="#000" stroke-width="1.5"/><line x1="234.7" y1="1435.9" x2="234.7" y2="1442.4" stroke="#000" stroke-width="1.5"/><line x1="248.1" y1="1435.9" x2="248.1" y2="1442.4" stroke="#000" stroke-width="1.5"/><line x1="261.5" y1="1435.9" x2="261.5" y2="1442.4" stroke="#000" stroke-width="1.5"/><line x1="274.9" y1="1435.9" x2="274.9" y2="1442.4" stroke="#000" stroke-width="1.5"/><line x1="288.3" y1="1435.9" x2="288.3" y2="1451.4" stroke="#000" stroke-width="1.5"/><line x1="301.7" y1="1435.9" x2="301.7" y2="1442.4" stroke="#000" stroke-width="1.5"/><line x1="315.1" y1="1435.9" x2="315.1" y2="1442.4" stroke="#000" stroke-width="1.5"/><line x1="328.5" y1="1435.9" x2="328.5" y2="1442.4" stroke="#000" stroke-width="1.5"/><line x1="341.9" y1="1435.9" x2="341.9" y2="1442.4" stroke="#000" stroke-width="1.5"/><line x1="355.3" y1="1435.9" x2="355.3" y2="1451.4" stroke="#000" stroke-width="1.5"/><line x1="368.7" y1="1435.9" x2="368.7" y2="1442.4" stroke="#000" stroke-width="1.5"/><line x1="382.1" y1="1435.9" x2="382.1" y2="1442.4" stroke="#000" stroke-width="1.5"/><line x1="395.5" y1="1435.9" x2="395.5" y2="1442.4" stroke="#000" stroke-width="1.5"/><line x1="408.9" y1="1435.9" x2="408.9" y2="1442.4" stroke="#000" stroke-width="1.5"/><line x1="422.3" y1="1435.9" x2="422.3" y2="1451.4" stroke="#000" stroke-width="1.5"/><line x1="435.7" y1="1435.9" x2="435.7" y2="1442.4" stroke="#000" stroke-width="1.5"/><line x1="449.1" y1="1435.9" x2="449.1" y2="1442.4" stroke="#000" stroke-width="1.5"/><line x1="462.6" y1="1435.9" x2="462.6" y2="1442.4" stroke="#000" stroke-width="1.5"/><line x1="476.0" y1="1435.9" x2="476.0" y2="1442.4" stroke="#000" stroke-width="1.5"/><line x1="489.4" y1="1435.9" x2="489.4" y2="1451.4" stroke="#000" stroke-width="1.5"/><line x1="502.8" y1="1435.9" x2="502.8" y2="1442.4" stroke="#000" stroke-width="1.5"/><line x1="516.2" y1="1435.9" x2="516.2" y2="1442.4" stroke="#000" stroke-width="1.5"/><line x1="529.6" y1="1435.9" x2="529.6" y2="1442.4" stroke="#000" stroke-width="1.5"/><line x1="543.0" y1="1435.9" x2="543.0" y2="1442.4" stroke="#000" stroke-width="1.5"/><line x1="556.4" y1="1435.9" x2="556.4" y2="1451.4" stroke="#000" stroke-width="1.5"/><line x1="569.8" y1="1435.9" x2="569.8" y2="1442.4" stroke="#000" stroke-width="1.5"/><line x1="583.2" y1="1435.9" x2="583.2" y2="1442.4" stroke="#000" stroke-width="1.5"/><line x1="596.6" y1="1435.9" x2="596.6" y2="1442.4" stroke="#000" stroke-width="1.5"/><line x1="610.0" y1="1435.9" x2="610.0" y2="1442.4" stroke="#000" stroke-width="1.5"/><line x1="623.4" y1="1435.9" x2="623.4" y2="1451.4" stroke="#000" stroke-width="1.5"/><line x1="636.8" y1="1435.9" x2="636.8" y2="1442.4" stroke="#000" stroke-width="1.5"/><line x1="650.2" y1="1435.9" x2="650.2" y2="1442.4" stroke="#000" stroke-width="1.5"/><line x1="663.6" y1="1435.9" x2="663.6" y2="1442.4" stroke="#000" stroke-width="1.5"/><line x1="677.0" y1="1435.9" x2="677.0" y2="1442.4" stroke="#000" stroke-width="1.5"/><line x1="690.4" y1="1435.9" x2="690.4" y2="1451.4" stroke="#000" stroke-width="1.5"/><line x1="703.8" y1="1435.9" x2="703.8" y2="1442.4" stroke="#000" stroke-width="1.5"/><line x1="717.2" y1="1435.9" x2="717.2" y2="1442.4" stroke="#000" stroke-width="1.5"/><line x1="730.6" y1="1435.9" x2="730.6" y2="1442.4" stroke="#000" stroke-width="1.5"/><line x1="744.0" y1="1435.9" x2="744.0" y2="1442.4" stroke="#000" stroke-width="1.5"/><line x1="757.4" y1="1435.9" x2="757.4" y2="1451.4" stroke="#000" stroke-width="1.5"/><line x1="145.3" y1="1442.4" x2="154.3" y2="1442.4" stroke="#000" stroke-width="1.3"/><line x1="145.3" y1="1369.2" x2="154.3" y2="1369.2" stroke="#000" stroke-width="1.3"/><line x1="145.3" y1="1295.9" x2="154.3" y2="1295.9" stroke="#000" stroke-width="1.3"/><line x1="145.3" y1="1222.7" x2="154.3" y2="1222.7" stroke="#000" stroke-width="1.3"/><line x1="145.3" y1="1149.4" x2="154.3" y2="1149.4" stroke="#000" stroke-width="1.3"/><line x1="145.3" y1="1076.2" x2="154.3" y2="1076.2" stroke="#000" stroke-width="1.3"/><line x1="145.3" y1="1002.9" x2="154.3" y2="1002.9" stroke="#000" stroke-width="1.3"/><line x1="145.3" y1="929.7" x2="154.3" y2="929.7" stroke="#000" stroke-width="1.3"/><line x1="145.3" y1="856.4" x2="154.3" y2="856.4" stroke="#000" stroke-width="1.3"/><line x1="145.3" y1="783.2" x2="154.3" y2="783.2" stroke="#000" stroke-width="1.3"/><text transform="translate(129.3,1450.5) scale(1,1.0)" text-anchor="end" class="t k">0</text><text transform="translate(129.3,1377.3) scale(1,1.0)" text-anchor="end" class="t k">500</text><text transform="translate(129.3,1304.0) scale(1,1.0)" text-anchor="end" class="t k">1,000</text><text transform="translate(129.3,1230.8) scale(1,1.0)" text-anchor="end" class="t k">1,500</text><text transform="translate(129.3,1157.5) scale(1,1.0)" text-anchor="end" class="t k">2,000</text><text transform="translate(129.3,1084.3) scale(1,1.0)" text-anchor="end" class="t k">2,500</text><text transform="translate(129.3,1011.0) scale(1,1.0)" text-anchor="end" class="t k">3,000</text><text transform="translate(129.3,937.8) scale(1,1.0)" text-anchor="end" class="t k">3,500</text><text transform="translate(129.3,864.5) scale(1,1.0)" text-anchor="end" class="t k">4,000</text><text transform="translate(129.3,791.3) scale(1,1.0)" text-anchor="end" class="t k">4,500</text><text transform="translate(154.3,1487.7) scale(1,1.025)" text-anchor="middle" class="t k">-4.0</text><text transform="translate(221.3,1487.7) scale(1,1.025)" text-anchor="middle" class="t k">-3.0</text><text transform="translate(288.3,1487.7) scale(1,1.025)" text-anchor="middle" class="t k">-2.0</text><text transform="translate(355.3,1487.7) scale(1,1.025)" text-anchor="middle" class="t k">-1.0</text><text transform="translate(422.3,1487.7) scale(1,1.025)" text-anchor="middle" class="t k">0.0</text><text transform="translate(489.4,1487.7) scale(1,1.025)" text-anchor="middle" class="t k">1.0</text><text transform="translate(556.4,1487.7) scale(1,1.025)" text-anchor="middle" class="t k">2.0</text><text transform="translate(623.4,1487.7) scale(1,1.025)" text-anchor="middle" class="t k">3.0</text><text transform="translate(690.4,1487.7) scale(1,1.025)" text-anchor="middle" class="t k">4.0</text><text transform="translate(757.4,1487.7) scale(1,1.025)" text-anchor="middle" class="t k">5.0</text><text transform="translate(328.1,1535.6) scale(1,1.0)" class="t" style="font-size:29.54px">CO<tspan style="font-size:19px" dy="4.5">2</tspan><tspan dy="-4.5"> - BKG (ppm)</tspan></text><text transform="translate(31.2,1192.5) rotate(-90) scale(1,1.0)" text-anchor="middle" class="t">Height (m)</text><text transform="translate(184.0,866.6) scale(1,1.03)" class="t" style="font-size:66px">RBA</text><line x1="768.1" y1="868.1" x2="800.7" y2="868.1" stroke="#502d78" stroke-width="2.2" stroke-linecap="butt"/><text transform="translate(802.3,876.1) scale(1,1.0)" class="t" style="font-size:29.45px">2010: 0.64 ppm</text><line x1="768.1" y1="917.9" x2="800.7" y2="917.9" stroke="#d14fd6" stroke-width="2.2" stroke-linecap="butt"/><text transform="translate(802.3,925.9) scale(1,1.0)" class="t" style="font-size:29.45px">2011: 0.03 ppm</text><line x1="768.1" y1="967.6" x2="800.7" y2="967.6" stroke="#3ccf3c" stroke-width="2.2" stroke-linecap="butt"/><text transform="translate(802.3,975.6) scale(1,1.0)" class="t" style="font-size:29.45px">2012: 0.03 ppm</text><line x1="768.1" y1="1017.4" x2="800.7" y2="1017.4" stroke="#2f86d6" stroke-width="2.2" stroke-linecap="butt"/><text transform="translate(802.3,1025.4) scale(1,1.0)" class="t" style="font-size:29.45px">2013: 0.39 ppm</text><line x1="768.1" y1="1066.7" x2="800.7" y2="1066.7" stroke="#eb9a2e" stroke-width="2.2" stroke-linecap="butt"/><text transform="translate(802.3,1074.7) scale(1,1.0)" class="t" style="font-size:29.45px">2014: 0.37 ppm</text><line x1="768.1" y1="1116.2" x2="800.7" y2="1116.2" stroke="#1a4468" stroke-width="2.2" stroke-linecap="butt"/><text transform="translate(802.3,1124.2) scale(1,1.0)" class="t" style="font-size:29.45px">2016: 0.74 ppm</text><line x1="768.1" y1="1166.7" x2="800.7" y2="1166.7" stroke="#7b4a1e" stroke-width="2.2" stroke-linecap="butt"/><text transform="translate(802.3,1174.7) scale(1,1.0)" class="t" style="font-size:29.45px">2017: -0.72 ppm</text><line x1="768.1" y1="1216.3" x2="800.7" y2="1216.3" stroke="#237a23" stroke-width="2.2" stroke-linecap="butt"/><text transform="translate(802.3,1224.3) scale(1,1.0)" class="t" style="font-size:29.45px">2018: -0.38 ppm</text><line x1="769.7" y1="1265.4" x2="799.1" y2="1265.4" stroke="#000000" stroke-width="5.5" stroke-linecap="round"/><text transform="translate(802.3,1273.4) scale(1,1.0)" class="t" style="font-size:29.45px">2010_18: 0.20 ppm</text><line x1="769.7" y1="1315.9" x2="799.1" y2="1315.9" stroke="#ee1111" stroke-width="5.5" stroke-linecap="round"/><text transform="translate(802.3,1323.9) scale(1,1.0)" class="t" style="font-size:29.45px">2019: -0.23 ppm</text><line x1="769.7" y1="1365.3" x2="799.1" y2="1365.3" stroke="#1433e6" stroke-width="5.5" stroke-linecap="round"/><text transform="translate(802.3,1373.3) scale(1,1.0)" class="t" style="font-size:29.45px">2020: 0.40 ppm</text></g><g id="BR"><polyline points="1514.0,798.0 1524.0,826.9 1550.1,860.8 1547.2,911.2 1539.0,992.2 1551.8,1059.7 1551.8,1119.1 1532.0,1189.0 1554.5,1257.0 1497.6,1303.9 1549.3,1347.3 1407.5,1370.9" fill="none" stroke="#502d78" stroke-width="1.9" stroke-linejoin="round" stroke-linecap="round"/><polyline points="1487.6,798.5 1496.8,825.9 1507.5,859.8 1523.9,891.8 1540.4,924.8 1512.0,985.0 1519.5,1058.0 1498.0,1100.0 1490.0,1115.6 1498.0,1176.0 1458.6,1215.7 1523.3,1256.5 1549.3,1303.9 1596.0,1347.0 1579.0,1370.9" fill="none" stroke="#d14fd6" stroke-width="1.9" stroke-linejoin="round" stroke-linecap="round"/><polyline points="1514.5,798.0 1522.0,822.0 1569.5,925.8 1568.1,992.2 1576.2,1057.4 1597.2,1117.9 1566.9,1171.5 1488.9,1215.7 1531.7,1258.8 1549.3,1302.8 1604.2,1346.6 1570.2,1370.9" fill="none" stroke="#3ccf3c" stroke-width="1.9" stroke-linejoin="round" stroke-linecap="round"/><polyline points="1552.1,797.8 1526.9,852.1 1559.8,924.8 1543.6,991.0 1554.1,1059.7 1526.1,1119.1 1544.8,1171.5 1604.5,1215.7 1608.6,1255.5 1550.4,1303.9 1587.8,1346.8 1426.2,1370.9" fill="none" stroke="#2f86d6" stroke-width="1.9" stroke-linejoin="round" stroke-linecap="round"/><polyline points="1558.9,797.8 1534.6,857.9 1540.0,930.0 1555.0,1000.0 1565.0,1090.0 1571.5,1117.9 1527.3,1169.2 1525.0,1206.4 1510.3,1257.0 1447.6,1303.9 1464.1,1346.8 1387.1,1370.9" fill="none" stroke="#eb9a2e" stroke-width="1.9" stroke-linejoin="round" stroke-linecap="round"/><polyline points="1519.1,797.8 1522.5,840.0 1540.0,890.0 1551.0,930.0 1573.9,991.0 1561.1,1057.4 1606.5,1117.9 1539.0,1171.5 1576.2,1215.7 1580.0,1256.9 1641.2,1296.8 1726.6,1346.6 1749.3,1370.7" fill="none" stroke="#1a4468" stroke-width="1.9" stroke-linejoin="round" stroke-linecap="round"/><polyline points="1460.7,797.9 1490.7,863.7 1591.1,925.8 1505.2,989.9 1495.9,1057.4 1507.5,1117.9 1442.3,1171.5 1498.0,1210.0 1540.0,1255.0 1580.0,1272.6 1732.2,1345.1 1774.2,1370.7" fill="none" stroke="#7b4a1e" stroke-width="1.9" stroke-linejoin="round" stroke-linecap="round"/><polyline points="1497.0,800.0 1496.8,825.9 1491.9,863.7 1494.7,920.0 1503.5,992.2 1491.2,1059.7 1488.9,1119.1 1502.0,1168.0 1495.9,1214.6 1539.2,1257.6 1580.0,1268.3 1715.2,1303.9 1821.9,1346.6 1784.9,1370.7" fill="none" stroke="#237a23" stroke-width="1.9" stroke-linejoin="round" stroke-linecap="round"/><polyline points="1512.3,796.8 1517.2,863.7 1549.2,927.7 1535.5,992.2 1542.4,1124.9 1520.3,1170.3 1522.7,1215.7 1542.7,1250.0 1573.5,1302.8 1636.9,1346.6 1584.3,1372.2" fill="none" stroke="#000000" stroke-width="5.2" stroke-linejoin="round" stroke-linecap="round"/><polyline points="1504.5,796.8 1514.2,828.8 1527.8,862.7 1530.7,927.7 1497.0,995.7 1523.8,1062.0 1542.4,1126.1 1521.5,1171.5 1502.9,1213.4 1576.5,1258.2 1608.5,1299.6 1617.0,1369.3" fill="none" stroke="#ee1111" stroke-width="5.2" stroke-linejoin="round" stroke-linecap="round"/><polyline points="1497.8,796.8 1490.0,846.0 1483.5,862.6 1484.2,929.3 1526.2,995.7 1540.1,1060.9 1533.1,1127.3 1491.2,1168.0 1544.8,1209.9 1614.1,1255.5 1638.3,1299.6 1708.1,1346.6 1713.0,1370.0" fill="none" stroke="#1433e6" stroke-width="5.2" stroke-linejoin="round" stroke-linecap="round"/><line x1="1489.6" y1="786.7" x2="1489.6" y2="1435.7" stroke="#444" stroke-width="1.6"/><rect x="1220.8" y="786.7" width="604.9" height="649.0" fill="none" stroke="#000" stroke-width="1.6"/><line x1="1220.8" y1="1429.2" x2="1220.8" y2="1444.7" stroke="#000" stroke-width="1.5"/><line x1="1234.2" y1="1429.2" x2="1234.2" y2="1435.7" stroke="#000" stroke-width="1.5"/><line x1="1247.7" y1="1429.2" x2="1247.7" y2="1435.7" stroke="#000" stroke-width="1.5"/><line x1="1261.1" y1="1429.2" x2="1261.1" y2="1435.7" stroke="#000" stroke-width="1.5"/><line x1="1274.6" y1="1429.2" x2="1274.6" y2="1435.7" stroke="#000" stroke-width="1.5"/><line x1="1288.0" y1="1429.2" x2="1288.0" y2="1444.7" stroke="#000" stroke-width="1.5"/><line x1="1301.5" y1="1429.2" x2="1301.5" y2="1435.7" stroke="#000" stroke-width="1.5"/><line x1="1314.9" y1="1429.2" x2="1314.9" y2="1435.7" stroke="#000" stroke-width="1.5"/><line x1="1328.3" y1="1429.2" x2="1328.3" y2="1435.7" stroke="#000" stroke-width="1.5"/><line x1="1341.8" y1="1429.2" x2="1341.8" y2="1435.7" stroke="#000" stroke-width="1.5"/><line x1="1355.2" y1="1429.2" x2="1355.2" y2="1444.7" stroke="#000" stroke-width="1.5"/><line x1="1368.7" y1="1429.2" x2="1368.7" y2="1435.7" stroke="#000" stroke-width="1.5"/><line x1="1382.1" y1="1429.2" x2="1382.1" y2="1435.7" stroke="#000" stroke-width="1.5"/><line x1="1395.5" y1="1429.2" x2="1395.5" y2="1435.7" stroke="#000" stroke-width="1.5"/><line x1="1409.0" y1="1429.2" x2="1409.0" y2="1435.7" stroke="#000" stroke-width="1.5"/><line x1="1422.4" y1="1429.2" x2="1422.4" y2="1444.7" stroke="#000" stroke-width="1.5"/><line x1="1435.9" y1="1429.2" x2="1435.9" y2="1435.7" stroke="#000" stroke-width="1.5"/><line x1="1449.3" y1="1429.2" x2="1449.3" y2="1435.7" stroke="#000" stroke-width="1.5"/><line x1="1462.8" y1="1429.2" x2="1462.8" y2="1435.7" stroke="#000" stroke-width="1.5"/><line x1="1476.2" y1="1429.2" x2="1476.2" y2="1435.7" stroke="#000" stroke-width="1.5"/><line x1="1489.6" y1="1429.2" x2="1489.6" y2="1444.7" stroke="#000" stroke-width="1.5"/><line x1="1503.1" y1="1429.2" x2="1503.1" y2="1435.7" stroke="#000" stroke-width="1.5"/><line x1="1516.5" y1="1429.2" x2="1516.5" y2="1435.7" stroke="#000" stroke-width="1.5"/><line x1="1530.0" y1="1429.2" x2="1530.0" y2="1435.7" stroke="#000" stroke-width="1.5"/><line x1="1543.4" y1="1429.2" x2="1543.4" y2="1435.7" stroke="#000" stroke-width="1.5"/><line x1="1556.9" y1="1429.2" x2="1556.9" y2="1444.7" stroke="#000" stroke-width="1.5"/><line x1="1570.3" y1="1429.2" x2="1570.3" y2="1435.7" stroke="#000" stroke-width="1.5"/><line x1="1583.7" y1="1429.2" x2="1583.7" y2="1435.7" stroke="#000" stroke-width="1.5"/><line x1="1597.2" y1="1429.2" x2="1597.2" y2="1435.7" stroke="#000" stroke-width="1.5"/><line x1="1610.6" y1="1429.2" x2="1610.6" y2="1435.7" stroke="#000" stroke-width="1.5"/><line x1="1624.1" y1="1429.2" x2="1624.1" y2="1444.7" stroke="#000" stroke-width="1.5"/><line x1="1637.5" y1="1429.2" x2="1637.5" y2="1435.7" stroke="#000" stroke-width="1.5"/><line x1="1651.0" y1="1429.2" x2="1651.0" y2="1435.7" stroke="#000" stroke-width="1.5"/><line x1="1664.4" y1="1429.2" x2="1664.4" y2="1435.7" stroke="#000" stroke-width="1.5"/><line x1="1677.8" y1="1429.2" x2="1677.8" y2="1435.7" stroke="#000" stroke-width="1.5"/><line x1="1691.3" y1="1429.2" x2="1691.3" y2="1444.7" stroke="#000" stroke-width="1.5"/><line x1="1704.7" y1="1429.2" x2="1704.7" y2="1435.7" stroke="#000" stroke-width="1.5"/><line x1="1718.2" y1="1429.2" x2="1718.2" y2="1435.7" stroke="#000" stroke-width="1.5"/><line x1="1731.6" y1="1429.2" x2="1731.6" y2="1435.7" stroke="#000" stroke-width="1.5"/><line x1="1745.0" y1="1429.2" x2="1745.0" y2="1435.7" stroke="#000" stroke-width="1.5"/><line x1="1758.5" y1="1429.2" x2="1758.5" y2="1444.7" stroke="#000" stroke-width="1.5"/><line x1="1771.9" y1="1429.2" x2="1771.9" y2="1435.7" stroke="#000" stroke-width="1.5"/><line x1="1785.4" y1="1429.2" x2="1785.4" y2="1435.7" stroke="#000" stroke-width="1.5"/><line x1="1798.8" y1="1429.2" x2="1798.8" y2="1435.7" stroke="#000" stroke-width="1.5"/><line x1="1812.3" y1="1429.2" x2="1812.3" y2="1435.7" stroke="#000" stroke-width="1.5"/><line x1="1825.7" y1="1429.2" x2="1825.7" y2="1444.7" stroke="#000" stroke-width="1.5"/><line x1="1220.8" y1="1435.7" x2="1229.8" y2="1435.7" stroke="#000" stroke-width="1.3"/><line x1="1220.8" y1="1363.6" x2="1229.8" y2="1363.6" stroke="#000" stroke-width="1.3"/><line x1="1220.8" y1="1291.5" x2="1229.8" y2="1291.5" stroke="#000" stroke-width="1.3"/><line x1="1220.8" y1="1219.4" x2="1229.8" y2="1219.4" stroke="#000" stroke-width="1.3"/><line x1="1220.8" y1="1147.3" x2="1229.8" y2="1147.3" stroke="#000" stroke-width="1.3"/><line x1="1220.8" y1="1075.1" x2="1229.8" y2="1075.1" stroke="#000" stroke-width="1.3"/><line x1="1220.8" y1="1003.0" x2="1229.8" y2="1003.0" stroke="#000" stroke-width="1.3"/><line x1="1220.8" y1="930.9" x2="1229.8" y2="930.9" stroke="#000" stroke-width="1.3"/><line x1="1220.8" y1="858.8" x2="1229.8" y2="858.8" stroke="#000" stroke-width="1.3"/><line x1="1220.8" y1="786.7" x2="1229.8" y2="786.7" stroke="#000" stroke-width="1.3"/><text transform="translate(1195.4,1443.9) scale(1,1.0)" text-anchor="end" class="t k">0</text><text transform="translate(1195.4,1371.8) scale(1,1.0)" text-anchor="end" class="t k">500</text><text transform="translate(1195.4,1299.7) scale(1,1.0)" text-anchor="end" class="t k">1,000</text><text transform="translate(1195.4,1227.6) scale(1,1.0)" text-anchor="end" class="t k">1,500</text><text transform="translate(1195.4,1155.5) scale(1,1.0)" text-anchor="end" class="t k">2,000</text><text transform="translate(1195.4,1083.3) scale(1,1.0)" text-anchor="end" class="t k">2,500</text><text transform="translate(1195.4,1011.2) scale(1,1.0)" text-anchor="end" class="t k">3,000</text><text transform="translate(1195.4,939.1) scale(1,1.0)" text-anchor="end" class="t k">3,500</text><text transform="translate(1195.4,867.0) scale(1,1.0)" text-anchor="end" class="t k">4,000</text><text transform="translate(1195.4,794.9) scale(1,1.0)" text-anchor="end" class="t k">4,500</text><text transform="translate(1220.8,1480.3) scale(1,1.025)" text-anchor="middle" class="t k">-4.0</text><text transform="translate(1288.0,1480.3) scale(1,1.025)" text-anchor="middle" class="t k">-3.0</text><text transform="translate(1355.2,1480.3) scale(1,1.025)" text-anchor="middle" class="t k">-2.0</text><text transform="translate(1422.4,1480.3) scale(1,1.025)" text-anchor="middle" class="t k">-1.0</text><text transform="translate(1489.6,1480.3) scale(1,1.025)" text-anchor="middle" class="t k">0.0</text><text transform="translate(1556.9,1480.3) scale(1,1.025)" text-anchor="middle" class="t k">1.0</text><text transform="translate(1624.1,1480.3) scale(1,1.025)" text-anchor="middle" class="t k">2.0</text><text transform="translate(1691.3,1480.3) scale(1,1.025)" text-anchor="middle" class="t k">3.0</text><text transform="translate(1758.5,1480.3) scale(1,1.025)" text-anchor="middle" class="t k">4.0</text><text transform="translate(1825.7,1480.3) scale(1,1.025)" text-anchor="middle" class="t k">5.0</text><text transform="translate(1440.9,1537.6) scale(1,1.0)" class="t" style="font-size:29.4px">CO<tspan style="font-size:19px" dy="4.5">2</tspan><tspan dy="-4.5"> - BKG (ppm)</tspan></text><text transform="translate(1094.6,1177.8) rotate(-90) scale(1,1.0)" text-anchor="middle" class="t">Height (m)</text><text transform="translate(1257.2,865.7) scale(1,1.03)" class="t" style="font-size:65.3px">ALF</text><line x1="1835.0" y1="881.2" x2="1868.5" y2="881.2" stroke="#502d78" stroke-width="2.2" stroke-linecap="butt"/><text transform="translate(1869.6,889.2) scale(1,1.0)" class="t" style="font-size:29.3px">2010: 0.51 ppm</text><line x1="1835.0" y1="930.1" x2="1868.5" y2="930.1" stroke="#d14fd6" stroke-width="2.2" stroke-linecap="butt"/><text transform="translate(1869.6,938.1) scale(1,1.0)" class="t" style="font-size:29.3px">2011: 0.52 ppm</text><line x1="1835.0" y1="979.5" x2="1868.5" y2="979.5" stroke="#3ccf3c" stroke-width="2.2" stroke-linecap="butt"/><text transform="translate(1869.6,987.5) scale(1,1.0)" class="t" style="font-size:29.3px">2012: 1.00 ppm</text><line x1="1835.0" y1="1028.8" x2="1868.5" y2="1028.8" stroke="#2f86d6" stroke-width="2.2" stroke-linecap="butt"/><text transform="translate(1869.6,1036.8) scale(1,1.0)" class="t" style="font-size:29.3px">2013: 0.87 ppm</text><line x1="1835.0" y1="1077.4" x2="1868.5" y2="1077.4" stroke="#eb9a2e" stroke-width="2.2" stroke-linecap="butt"/><text transform="translate(1869.6,1085.4) scale(1,1.0)" class="t" style="font-size:29.3px">2014: 0.29 ppm</text><line x1="1835.0" y1="1126.5" x2="1868.5" y2="1126.5" stroke="#1a4468" stroke-width="2.2" stroke-linecap="butt"/><text transform="translate(1869.6,1134.5) scale(1,1.0)" class="t" style="font-size:29.3px">2016: 1.70 ppm</text><line x1="1835.0" y1="1174.9" x2="1868.5" y2="1174.9" stroke="#7b4a1e" stroke-width="2.2" stroke-linecap="butt"/><text transform="translate(1869.6,1182.9) scale(1,1.0)" class="t" style="font-size:29.3px">2017: 1.14 ppm</text><line x1="1835.0" y1="1224.7" x2="1868.5" y2="1224.7" stroke="#237a23" stroke-width="2.2" stroke-linecap="butt"/><text transform="translate(1869.6,1232.7) scale(1,1.0)" class="t" style="font-size:29.3px">2018: 1.35 ppm</text><line x1="1836.6" y1="1273.6" x2="1866.9" y2="1273.6" stroke="#000000" stroke-width="5.5" stroke-linecap="round"/><text transform="translate(1869.6,1281.6) scale(1,1.0)" class="t" style="font-size:29.3px">2010_18: 0.88 ppm</text><line x1="1836.6" y1="1323.3" x2="1866.9" y2="1323.3" stroke="#ee1111" stroke-width="5.5" stroke-linecap="round"/><text transform="translate(1869.6,1331.3) scale(1,1.0)" class="t" style="font-size:29.3px">2019: 0.86 ppm</text><line x1="1836.6" y1="1372.2" x2="1866.9" y2="1372.2" stroke="#1433e6" stroke-width="5.5" stroke-linecap="round"/><text transform="translate(1869.6,1380.2) scale(1,1.0)" class="t" style="font-size:29.3px">2020: 1.12 ppm</text></g></svg>
</body></html>
